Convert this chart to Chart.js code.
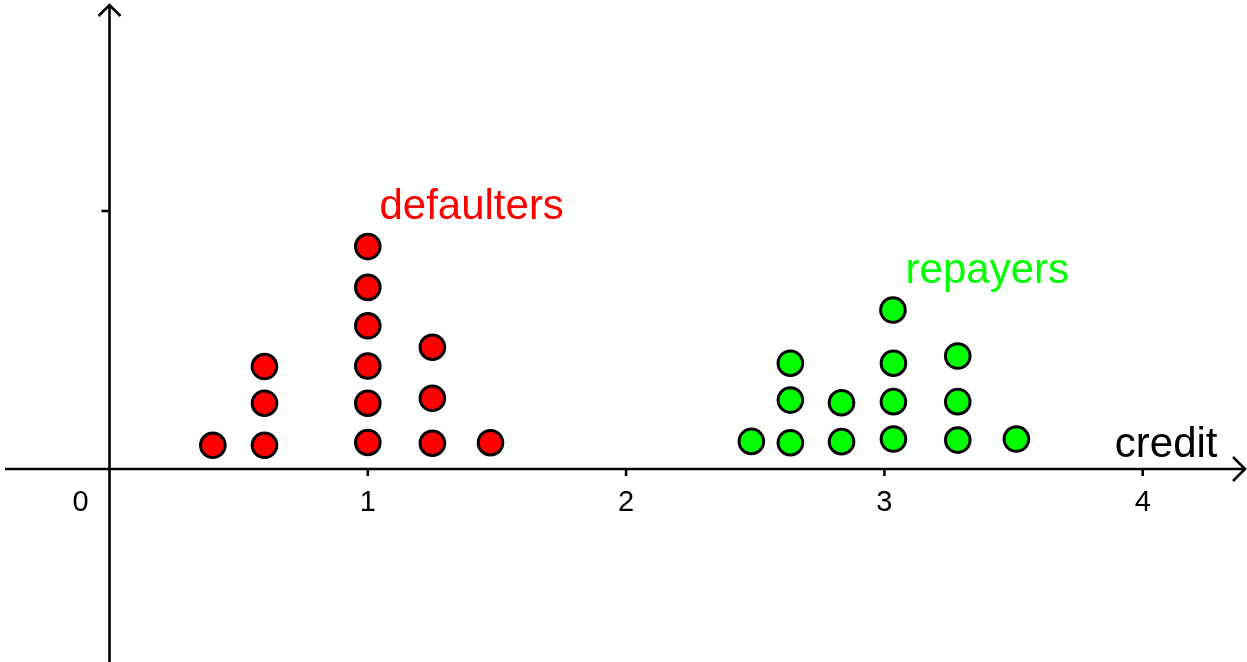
<!DOCTYPE html>
<html>
<head>
<meta charset="utf-8">
<script src="https://cdn.jsdelivr.net/npm/chart.js@4.4.1/dist/chart.umd.min.js"></script>
<style>
  html, body { margin: 0; padding: 0; background: #ffffff; }
  #wrap { width: 1247px; height: 662px; position: relative; }
</style>
</head>
<body>
<div id="wrap"><canvas id="c"></canvas></div>
<script>
// ---- data ----
const defaultersX = [0.40, 0.60, 0.60, 0.60, 1.00, 1.00, 1.00, 1.00, 1.00, 1.00, 1.25, 1.25, 1.25, 1.475];
const defaultersY = [0.092, 0.092, 0.255, 0.397, 0.103, 0.255, 0.399, 0.555, 0.704, 0.862, 0.100, 0.274, 0.472, 0.102];
const repayersX = [2.485, 2.636, 2.636, 2.636, 2.834, 2.834, 3.035, 3.035, 3.035, 3.033, 3.284, 3.284, 3.284, 3.511];
const repayersY = [0.107, 0.102, 0.267, 0.410, 0.106, 0.257, 0.116, 0.261, 0.410, 0.616, 0.112, 0.261, 0.438, 0.116];
const xTickLabels = ['0', '1', '2', '3', '4'];
const xTickValues = [0, 1, 2, 3, 4];
const yTickValues = [1];
const seriesNames = ['defaulters', 'repayers'];
const axisTitle = 'credit';

const toPoints = (xs, ys) => xs.map((x, i) => ({ x: x, y: ys[i] }));

const FONT = '"Liberation Sans", Arial, Helvetica, sans-serif';

const axesPlugin = {
  id: 'axesPlugin',
  beforeDatasetsDraw(chart) {
    const ctx = chart.ctx;
    const xs = chart.scales.x, ys = chart.scales.y;
    const x0 = xs.getPixelForValue(0);
    const y0 = ys.getPixelForValue(0);
    ctx.save();
    ctx.strokeStyle = '#000';
    ctx.lineWidth = 2.6;
    ctx.lineCap = 'butt';
    ctx.lineJoin = 'miter';
    // x axis
    ctx.beginPath();
    ctx.moveTo(5, y0);
    ctx.lineTo(1244, y0);
    ctx.stroke();
    // x arrow
    ctx.beginPath();
    ctx.moveTo(1233, y0 - 12);
    ctx.lineTo(1245, y0);
    ctx.lineTo(1233, y0 + 12);
    ctx.stroke();
    // y axis
    ctx.beginPath();
    ctx.moveTo(x0, 662);
    ctx.lineTo(x0, 5);
    ctx.stroke();
    // y arrow
    ctx.beginPath();
    ctx.moveTo(x0 - 11, 16);
    ctx.lineTo(x0, 5);
    ctx.lineTo(x0 + 11, 16);
    ctx.stroke();
    // x ticks
    xTickValues.forEach(v => {
      if (v === 0) return;
      const px = xs.getPixelForValue(v);
      ctx.beginPath();
      ctx.moveTo(px, y0);
      ctx.lineTo(px, y0 + 7);
      ctx.stroke();
    });
    // y ticks
    yTickValues.forEach(v => {
      const py = ys.getPixelForValue(v);
      ctx.beginPath();
      ctx.moveTo(x0 - 8, py);
      ctx.lineTo(x0, py);
      ctx.stroke();
    });
    // tick labels
    ctx.fillStyle = '#000';
    ctx.font = '29px ' + FONT;
    ctx.textAlign = 'center';
    ctx.textBaseline = 'alphabetic';
    xTickValues.forEach((v, i) => {
      let px = xs.getPixelForValue(v);
      if (v === 0) px = x0 - 29;
      ctx.fillText(xTickLabels[i], px, 511);
    });
    // annotations
    ctx.font = '42px ' + FONT;
    ctx.textAlign = 'left';
    ctx.fillStyle = '#ff0000';
    ctx.fillText(seriesNames[0], xs.getPixelForValue(1.045), ys.getPixelForValue(0.969));
    ctx.fillStyle = '#00ff00';
    ctx.fillText(seriesNames[1], xs.getPixelForValue(3.082), ys.getPixelForValue(0.721));
    ctx.fillStyle = '#000';
    ctx.fillText(axisTitle, xs.getPixelForValue(3.892), ys.getPixelForValue(0.0465));
    ctx.restore();
  }
};

new Chart(document.getElementById('c'), {
  type: 'scatter',
  data: {
    datasets: [
      {
        label: seriesNames[0],
        data: toPoints(defaultersX, defaultersY),
        backgroundColor: '#ff0000',
        borderColor: '#000000',
        borderWidth: 3,
        pointRadius: 12.3,
        pointHoverRadius: 12.3,
        clip: false
      },
      {
        label: seriesNames[1],
        data: toPoints(repayersX, repayersY),
        backgroundColor: '#00ff00',
        borderColor: '#000000',
        borderWidth: 3,
        pointRadius: 12.3,
        pointHoverRadius: 12.3,
        clip: false
      }
    ]
  },
  options: {
    responsive: true,
    maintainAspectRatio: false,
    animation: false,
    events: [],
    layout: { padding: 0, autoPadding: false },
    plugins: {
      legend: { display: false },
      tooltip: { enabled: false },
      title: { display: false }
    },
    scales: {
      x: { type: 'linear', display: false, min: -109.5 / 258.3, max: (1247 - 109.5) / 258.3 },
      y: { type: 'linear', display: false, min: -(662 - 469) / 258, max: 469 / 258 }
    }
  },
  plugins: [axesPlugin]
});
</script>
</body>
</html>
